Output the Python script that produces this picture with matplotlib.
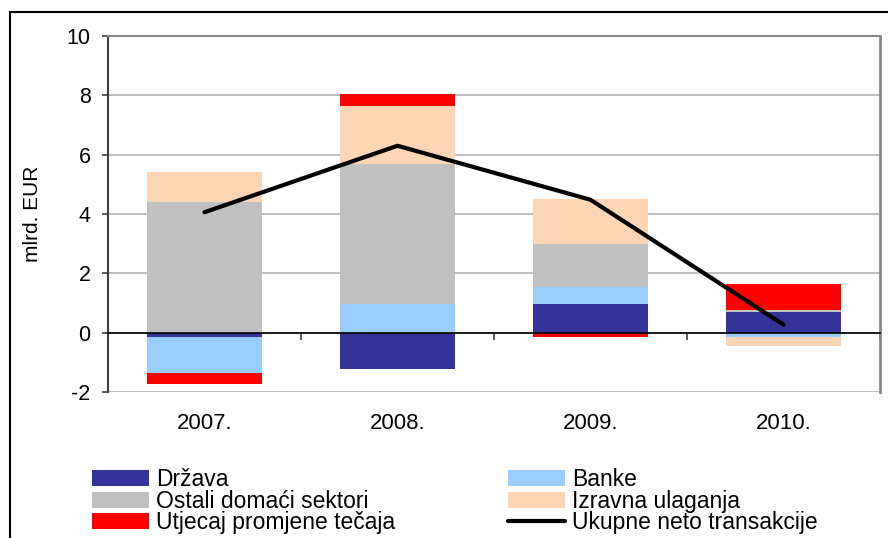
import matplotlib

matplotlib.use('Agg')

import matplotlib.pyplot as plt
import matplotlib.patches as mpatches
import numpy as np

plt.rcParams['font.family'] = ['Liberation Sans', 'DejaVu Sans']
plt.rcParams['axes.unicode_minus'] = False

godine = ['2007.', '2008.', '2009.', '2010.']

# mlrd. EUR po sektorima
drzava = [-0.15, -1.22, 0.98, 0.71]
banke = [-1.22, 0.98, 0.56, -0.16]
ostali = [4.39, 4.72, 1.46, 0.07]
izravna = [1.04, 1.93, 1.49, -0.30]
utjecaj = [-0.37, 0.43, -0.15, 0.87]
ukupno = [4.06, 6.30, 4.48, 0.27]

serije = [drzava, banke, ostali, izravna, utjecaj]
nazivi = ['Država', 'Banke', 'Ostali domaći sektori', 'Izravna ulaganja', 'Utjecaj promjene tečaja']
boje = ['#333399', '#99CCFF', '#C0C0C0', '#FCD5B5', '#FF0000']

fig = plt.figure(figsize=(8.88, 5.38), dpi=100)
ax = fig.add_axes([108 / 888, 1 - 392 / 538, 772 / 888, 356 / 538])

x = np.arange(len(godine))
poz = np.zeros(len(godine))
neg = np.zeros(len(godine))
stupci = []
for vrijednosti, naziv, boja in zip(serije, nazivi, boje):
    v = np.array(vrijednosti)
    dno = np.where(v >= 0, poz, neg)
    b = ax.bar(x, v, 0.6, bottom=dno, color=boja, label=naziv, zorder=2)
    stupci.append(b)
    poz = poz + np.where(v >= 0, v, 0)
    neg = neg + np.where(v < 0, v, 0)

linija, = ax.plot(x, ukupno, color='black', lw=3, solid_capstyle='round', zorder=4,
                  label='Ukupne neto transakcije')

ax.set_xlim(-0.5, 3.5)
ax.set_ylim(-2, 10)
ax.set_yticks(np.arange(-2, 11, 2))
ax.yaxis.grid(True, color='#b4b4b4', lw=1.2, zorder=0)
ax.set_axisbelow(True)

# os x prolazi kroz nulu, oznake kategorija ispod okvira
ax.spines['bottom'].set_position(('data', 0))
ax.spines['bottom'].set_color('black')
ax.spines['bottom'].set_linewidth(1.2)
ax.spines['bottom'].set_zorder(3)
ax.set_xticks(x)
ax.set_xticklabels(godine, fontsize=16)
ax.tick_params(axis='x', which='major', length=0, pad=58)
ax.set_xticks(np.arange(-0.5, 4.0, 1.0), minor=True)
ax.tick_params(axis='x', which='minor', length=5, width=1.2, direction='out', color='#404040')

ax.spines['left'].set_color('#404040')
ax.spines['left'].set_linewidth(1.5)
ax.spines['top'].set_color('#888888')
ax.spines['top'].set_linewidth(1.5)
ax.spines['right'].set_color('#888888')
ax.spines['right'].set_linewidth(2)
ax.tick_params(axis='y', length=4.5, width=1.2, color='#404040', labelsize=15.5, pad=8)
ax.set_ylabel('mlrd. EUR', fontsize=15, labelpad=18)

# vanjski okvir grafikona
fig.patches.append(mpatches.Rectangle((10 / 888, -0.1), 1.0, 1.1 - 12 / 538,
                                      transform=fig.transFigure, fill=False,
                                      edgecolor='black', lw=1.5))

rucke = [stupci[0], stupci[2], stupci[4], stupci[1], stupci[3], linija]
oznake = [nazivi[0], nazivi[2], nazivi[4], nazivi[1], nazivi[3], 'Ukupne neto transakcije']
fig.legend(rucke, oznake, ncol=2, loc='upper left', bbox_to_anchor=(92 / 888, 1 - 468 / 538),
           frameon=False, fontsize=16.5, handlelength=2.5, handleheight=0.7,
           handletextpad=0.3, columnspacing=4.9, labelspacing=-0.06,
           borderpad=0, borderaxespad=0)

fig.savefig('out.png', dpi=100)
